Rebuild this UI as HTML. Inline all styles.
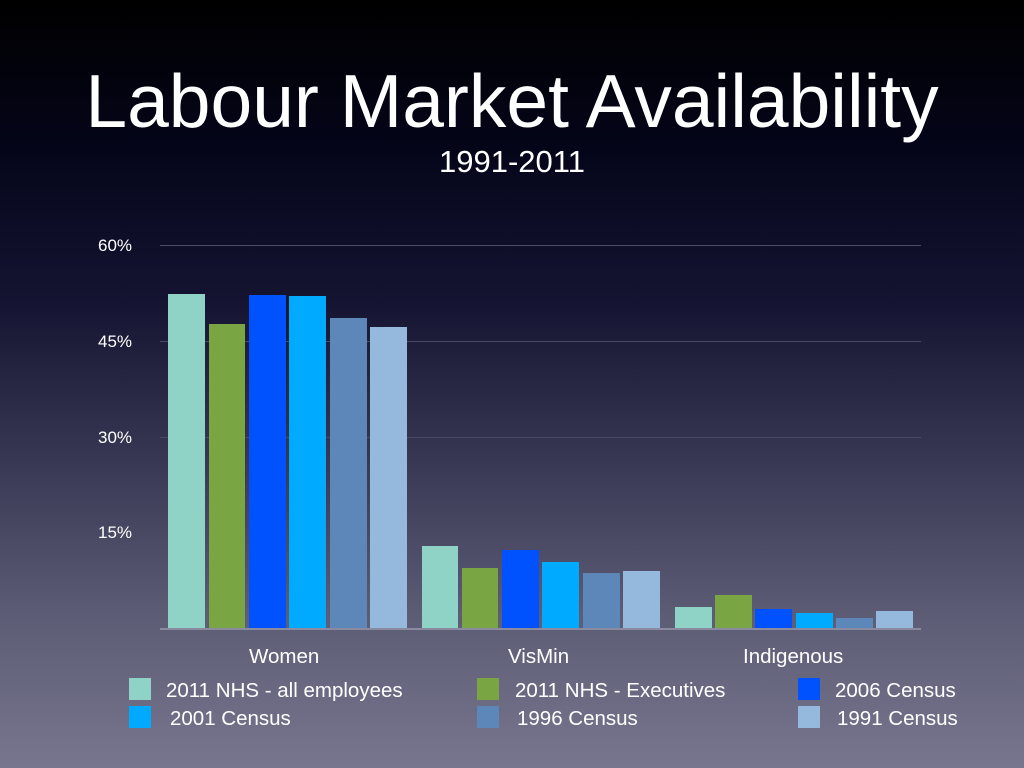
<!DOCTYPE html>
<html><head><style>
body{margin:0;width:1024px;height:768px;overflow:hidden;background:linear-gradient(180deg,#000 0px,#05051a 150px,#141432 300px,#3c3c58 480px,#5e5d76 620px,#77768e 768px);font-family:"Liberation Sans",sans-serif;color:#fff;position:relative}
.t{position:absolute;white-space:nowrap}
.bar{position:absolute}
.sw{position:absolute;width:22px;height:22px}
.lg{position:absolute;font-size:20.5px;white-space:nowrap}
.gl{position:absolute;left:160px;width:761px;height:1px;background:#4a4a66}
.yl{position:absolute;font-size:17px;left:98px}
</style></head><body>
<div class="t" style="left:0;width:1024px;text-align:center;top:58px;font-size:75px;line-height:86px">Labour Market Availability</div>
<div class="t" style="left:0;width:1024px;text-align:center;top:144px;font-size:31px">1991-2011</div>
<div class="gl" style="top:245px"></div>
<div class="gl" style="top:341px"></div>
<div class="gl" style="top:437px"></div>
<div class="gl" style="top:532px"></div>
<div class="gl" style="top:628px;height:2px;background:#8a8aa0"></div>
<div class="yl" style="top:236px">60%</div>
<div class="yl" style="top:332px">45%</div>
<div class="yl" style="top:428px">30%</div>
<div class="yl" style="top:523px">15%</div>

<div class="bar" style="left:168px;width:37px;top:294px;height:334px;background:#8fd3c6"></div>
<div class="bar" style="left:209px;width:36px;top:324px;height:304px;background:#79a643"></div>
<div class="bar" style="left:249px;width:37px;top:295px;height:333px;background:#0052ff"></div>
<div class="bar" style="left:289px;width:37px;top:296px;height:332px;background:#00aaff"></div>
<div class="bar" style="left:330px;width:37px;top:318px;height:310px;background:#5e87b9"></div>
<div class="bar" style="left:370px;width:37px;top:327px;height:301px;background:#94b9dc"></div>

<div class="bar" style="left:422px;width:36px;top:546px;height:82px;background:#8fd3c6"></div>
<div class="bar" style="left:462px;width:36px;top:568px;height:60px;background:#79a643"></div>
<div class="bar" style="left:502px;width:37px;top:550px;height:78px;background:#0052ff"></div>
<div class="bar" style="left:542px;width:37px;top:562px;height:66px;background:#00aaff"></div>
<div class="bar" style="left:583px;width:37px;top:573px;height:55px;background:#5e87b9"></div>
<div class="bar" style="left:623px;width:37px;top:571px;height:57px;background:#94b9dc"></div>

<div class="bar" style="left:675px;width:37px;top:607px;height:21px;background:#8fd3c6"></div>
<div class="bar" style="left:715px;width:37px;top:595px;height:33px;background:#79a643"></div>
<div class="bar" style="left:755px;width:37px;top:609px;height:19px;background:#0052ff"></div>
<div class="bar" style="left:796px;width:37px;top:613px;height:15px;background:#00aaff"></div>
<div class="bar" style="left:836px;width:37px;top:618px;height:10px;background:#5e87b9"></div>
<div class="bar" style="left:876px;width:37px;top:611px;height:17px;background:#94b9dc"></div>

<div class="lg" style="left:249px;top:645px">Women</div>
<div class="lg" style="left:508px;top:645px">VisMin</div>
<div class="lg" style="left:743px;top:645px">Indigenous</div>

<div class="sw" style="left:129px;top:678px;background:#8fd3c6"></div>
<div class="lg" style="left:166px;top:679px">2011 NHS - all employees</div>
<div class="sw" style="left:129px;top:706px;background:#00aaff"></div>
<div class="lg" style="left:170px;top:707px">2001 Census</div>
<div class="sw" style="left:477px;top:678px;background:#79a643"></div>
<div class="lg" style="left:515px;top:679px">2011 NHS - Executives</div>
<div class="sw" style="left:477px;top:706px;background:#5e87b9"></div>
<div class="lg" style="left:517px;top:707px">1996 Census</div>
<div class="sw" style="left:798px;top:678px;background:#0052ff"></div>
<div class="lg" style="left:835px;top:679px">2006 Census</div>
<div class="sw" style="left:798px;top:706px;background:#94b9dc"></div>
<div class="lg" style="left:837px;top:707px">1991 Census</div>
</body></html>
